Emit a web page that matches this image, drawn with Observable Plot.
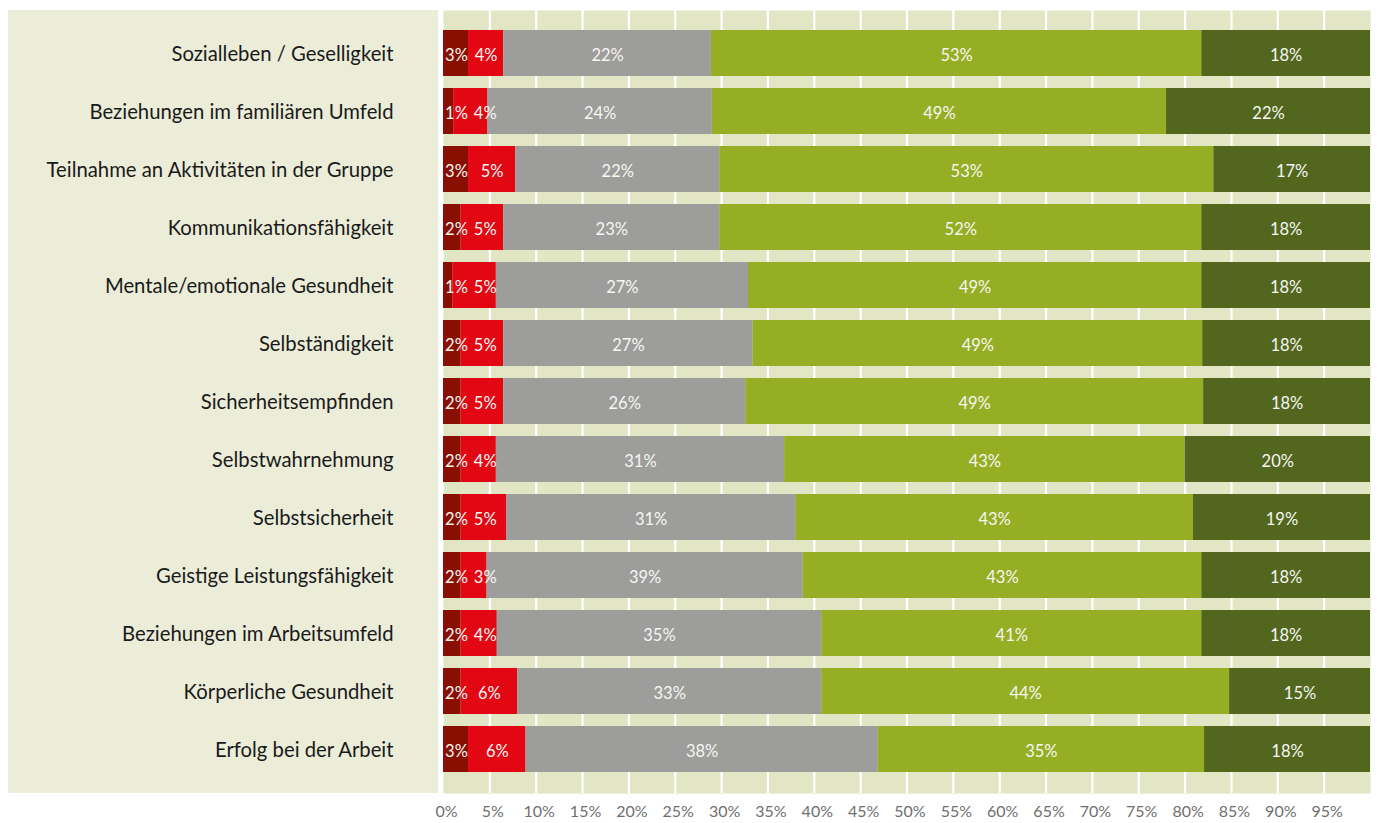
<!DOCTYPE html>
<html>
<head>
<meta charset="utf-8">
<script src="https://cdn.jsdelivr.net/npm/d3@7"></script>
<script src="https://cdn.jsdelivr.net/npm/@observablehq/plot@0.6"></script>
<style>
  html, body { margin: 0; padding: 0; background: #ffffff; }
  #chart { width: 1377px; height: 823px; }
</style>
</head>
<body>
<div id="chart"></div>
<script>
// Categories (top to bottom)
const categories = [
  "Sozialleben / Geselligkeit",
  "Beziehungen im familiären Umfeld",
  "Teilnahme an Aktivitäten in der Gruppe",
  "Kommunikationsfähigkeit",
  "Mentale/emotionale Gesundheit",
  "Selbständigkeit",
  "Sicherheitsempfinden",
  "Selbstwahrnehmung",
  "Selbstsicherheit",
  "Geistige Leistungsfähigkeit",
  "Beziehungen im Arbeitsumfeld",
  "Körperliche Gesundheit",
  "Erfolg bei der Arbeit"
];

// Series names (order of stacking, left to right)
const seriesNames = ["stark verschlechtert", "verschlechtert", "unverändert", "verbessert", "stark verbessert"];
const seriesColors = ["#8a0f03", "#e30613", "#9d9d9c", "#96ae24", "#52661e"];

// Segment shares as measured from the bar lengths (%)
const shareStarkVerschlechtert = [2.7, 1.1, 2.7, 1.9, 1.0, 1.9, 1.9, 1.9, 1.9, 1.9, 1.9, 1.9, 2.7];
const shareVerschlechtert      = [3.8, 3.7, 5.1, 4.6, 4.7, 4.6, 4.6, 3.8, 4.9, 2.8, 3.9, 6.1, 6.2];
const shareUnveraendert        = [22.4, 24.2, 22.0, 23.3, 27.2, 26.9, 26.1, 31.1, 31.2, 34.1, 35.0, 32.8, 38.0];
const shareVerbessert          = [52.9, 49.0, 53.3, 52.0, 48.9, 48.5, 49.4, 43.2, 42.9, 43.0, 41.0, 44.0, 35.2];
const shareStarkVerbessert     = [18.2, 22.0, 16.9, 18.2, 18.2, 18.1, 18.0, 20.0, 19.1, 18.2, 18.2, 15.2, 17.9];

// Printed labels (%), as shown on the bars
const labelStarkVerschlechtert = [3, 1, 3, 2, 1, 2, 2, 2, 2, 2, 2, 2, 3];
const labelVerschlechtert      = [4, 4, 5, 5, 5, 5, 5, 4, 5, 3, 4, 6, 6];
const labelUnveraendert        = [22, 24, 22, 23, 27, 27, 26, 31, 31, 39, 35, 33, 38];
const labelVerbessert          = [53, 49, 53, 52, 49, 49, 49, 43, 43, 43, 41, 44, 35];
const labelStarkVerbessert     = [18, 22, 17, 18, 18, 18, 18, 20, 19, 18, 18, 15, 18];

// X axis ticks
const xTicks = [0, 5, 10, 15, 20, 25, 30, 35, 40, 45, 50, 55, 60, 65, 70, 75, 80, 85, 90, 95];

const shares = [shareStarkVerschlechtert, shareVerschlechtert, shareUnveraendert, shareVerbessert, shareStarkVerbessert];
const labels = [labelStarkVerschlechtert, labelVerschlechtert, labelUnveraendert, labelVerbessert, labelStarkVerbessert];

// Rows for bars; label anchors keep the narrow labels from colliding
// (first label pushed off the axis, second label kept clear of the first).
const rows = [];
categories.forEach((cat, i) => {
  let start = 0;
  let prevCenter = -Infinity;
  seriesNames.forEach((s, j) => {
    const v = shares[j][i];
    let mid = start + v / 2;
    if (j === 0) mid = Math.max(mid, 1.4);
    if (j === 1) mid = Math.max(mid, prevCenter + 3.1);
    prevCenter = mid;
    rows.push({category: cat, series: s, value: v, label: labels[j][i] + "%", labelX: mid});
    start += v;
  });
});

const W = 1377, H = 823;
const FONT = "Lato, 'Open Sans', sans-serif";

const chart = Plot.plot({
  width: W,
  height: H,
  marginLeft: 443,
  marginRight: 7,
  marginTop: 10,
  marginBottom: 30,
  style: {fontFamily: FONT, background: "transparent", overflow: "visible"},
  x: {domain: [0, 100], axis: null, label: null},
  y: {domain: categories, padding: 0.211, insetTop: 5.7, insetBottom: 7, axis: null, label: null},
  color: {domain: seriesNames, range: seriesColors},
  marks: [
    Plot.frame({fill: "#e2e6c4", stroke: null}),
    Plot.ruleX(xTicks.filter(d => d > 0), {stroke: "#ffffff", strokeWidth: 2.2}),
    Plot.barX(rows, Plot.stackX({x: "value", y: "category", fill: "series", order: null})),
    Plot.text(rows, {x: "labelX", y: "category", text: "label",
      fill: "#f6f6f2", fontSize: 16.5, dy: 2}),
    Plot.axisY({tickSize: 0, tickPadding: 50, fontSize: 20.3, fill: "#1a1a1a", textAnchor: "end", dy: 1, label: null}),
    Plot.axisX({ticks: xTicks, tickSize: 0, tickPadding: 12, tickFormat: d => d + "%", fontSize: 16, fill: "#6f6f6f", dx: 3, label: null})
  ]
});

// Decorative background panel behind the category labels
const svg = d3.select(chart);
svg.insert("rect", ":first-child")
  .attr("x", 8).attr("y", 10).attr("width", 430).attr("height", 783)
  .attr("fill", "#ebedd8");

document.getElementById("chart").appendChild(chart);
</script>
</body>
</html>
